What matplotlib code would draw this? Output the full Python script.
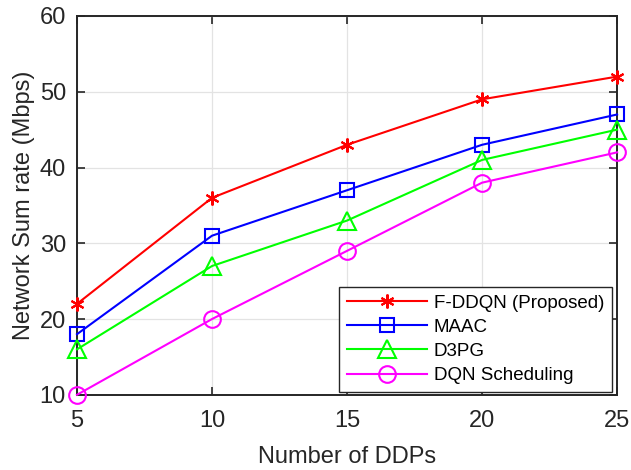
import matplotlib.pyplot as plt

# data
ddps = [5, 10, 15, 20, 25]
fddqn = [22, 36, 43, 49, 52]
maac = [18, 31, 37, 43, 47]
d3pg = [16, 27, 33, 41, 45]
dqn = [10, 20, 29, 38, 42]

plt.rcParams['font.family'] = ['Liberation Sans', 'DejaVu Sans']

fig = plt.figure(figsize=(6.31, 4.70), dpi=100)
ax = fig.add_axes([0.122, 0.160, 0.856, 0.806])

common = dict(lw=1.5, markeredgewidth=1.5, clip_on=False, zorder=3)
ax.plot(ddps, fddqn, color='#ff0000', marker=(6, 2, 0), markersize=10,
        label='F-DDQN (Proposed)', **common)
ax.plot(ddps, maac, color='#0000ff', marker='s', markersize=10,
        markerfacecolor='none', label='MAAC', **common)
ax.plot(ddps, d3pg, color='#00ff00', marker='^', markersize=13,
        markerfacecolor='none', label='D3PG', **common)
ax.plot(ddps, dqn, color='#ff00ff', marker='o', markersize=12,
        markerfacecolor='none', label='DQN Scheduling', **common)

ax.set_xlim(5, 25)
ax.set_ylim(10, 60)
ax.set_xticks(ddps)
ax.set_yticks([10, 20, 30, 40, 50, 60])
ax.grid(True, color='#e3e3e3', lw=0.9)
ax.set_axisbelow(True)
ax.tick_params(direction='in', length=6, width=1.2, labelsize=17, colors='#262626',
               top=True, right=True)
ax.tick_params(axis='x', pad=11)
ax.tick_params(axis='y', pad=8)
for s in ax.spines.values():
    s.set_linewidth(1.4)
    s.set_color('#262626')

ax.set_xlabel('Number of DDPs', fontsize=17, color='#262626', labelpad=10)
ax.set_ylabel('Network Sum rate (Mbps)', fontsize=17, color='#262626', labelpad=3)

leg = ax.legend(loc='lower right', bbox_to_anchor=(0.99, 0.008), fontsize=13.5,
                fancybox=False, framealpha=1, edgecolor='#262626',
                handlelength=4.3, borderpad=0.4, labelspacing=0.38,
                handletextpad=0.35, borderaxespad=0)
leg.get_frame().set_linewidth(1.0)

fig.savefig('out.png', dpi=100)
